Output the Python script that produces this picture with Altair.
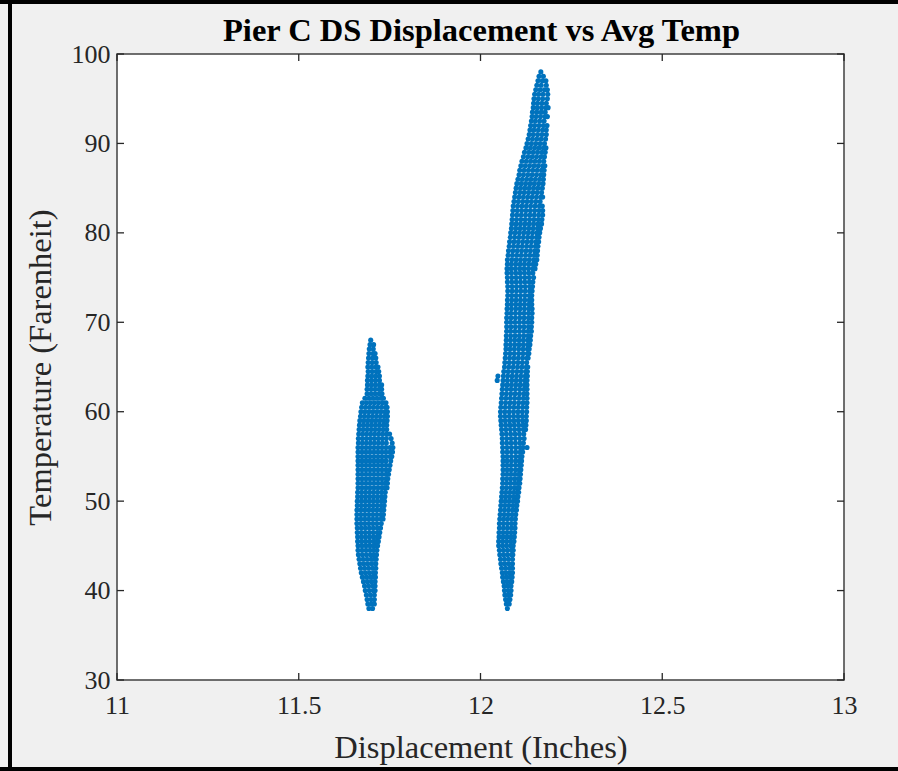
import altair as alt
import pandas as pd

# ---------------- data ----------------
# Left cluster (around 11.7 in): temperature rows and displacement readings per row
left_temp = [68.0, 67.5, 67.0, 66.5, 66.0, 65.5, 65.0, 64.5, 64.0, 63.5, 63.0, 62.5, 62.0, 61.5,
             61.0, 60.5, 60.0, 59.5, 59.0, 58.5, 58.0, 57.5, 57.0, 56.5, 56.0, 55.5, 55.0, 54.5,
             54.0, 53.5, 53.0, 52.5, 52.0, 51.5, 51.0, 50.5, 50.0, 49.5, 49.0, 48.5, 48.0, 47.5,
             47.0, 46.5, 46.0, 45.5, 45.0, 44.5, 44.0, 43.5, 43.0, 42.5, 42.0, 41.5, 41.0, 40.5,
             40.0, 39.5, 39.0, 38.5, 38.0]
left_disp = [
    [11.698],
    [11.696, 11.706],
    [11.694, 11.705],
    [11.693, 11.704, 11.710],
    [11.692, 11.703, 11.712],
    [11.691, 11.702, 11.713],
    [11.690, 11.701, 11.712, 11.718],
    [11.691, 11.702, 11.713, 11.720],
    [11.690, 11.701, 11.712, 11.722],
    [11.689, 11.700, 11.711, 11.722],
    [11.689, 11.700, 11.711, 11.722, 11.728],
    [11.688, 11.699, 11.710, 11.721, 11.728],
    [11.688, 11.699, 11.710, 11.721, 11.729],
    [11.682, 11.693, 11.704, 11.715, 11.726, 11.733],
    [11.675, 11.686, 11.697, 11.708, 11.719, 11.730, 11.740],
    [11.673, 11.684, 11.695, 11.706, 11.717, 11.728, 11.739, 11.743],
    [11.671, 11.682, 11.693, 11.704, 11.715, 11.726, 11.737, 11.744],
    [11.670, 11.681, 11.692, 11.703, 11.714, 11.725, 11.736, 11.744],
    [11.668, 11.679, 11.690, 11.701, 11.712, 11.723, 11.734, 11.743],
    [11.667, 11.678, 11.689, 11.700, 11.711, 11.722, 11.733, 11.742],
    [11.666, 11.677, 11.688, 11.699, 11.710, 11.721, 11.732, 11.742],
    [11.665, 11.676, 11.687, 11.698, 11.709, 11.720, 11.731, 11.742, 11.750],
    [11.664, 11.675, 11.686, 11.697, 11.708, 11.719, 11.730, 11.741, 11.754],
    [11.664, 11.675, 11.686, 11.697, 11.708, 11.719, 11.730, 11.741, 11.757],
    [11.663, 11.674, 11.685, 11.696, 11.707, 11.718, 11.729, 11.740, 11.751, 11.759],
    [11.663, 11.674, 11.685, 11.696, 11.707, 11.718, 11.729, 11.740, 11.751, 11.758],
    [11.663, 11.674, 11.685, 11.696, 11.707, 11.718, 11.729, 11.740, 11.751, 11.756],
    [11.663, 11.674, 11.685, 11.696, 11.707, 11.718, 11.729, 11.740, 11.753],
    [11.663, 11.674, 11.685, 11.696, 11.707, 11.718, 11.729, 11.740, 11.751],
    [11.663, 11.674, 11.685, 11.696, 11.707, 11.718, 11.729, 11.740, 11.749],
    [11.663, 11.674, 11.685, 11.696, 11.707, 11.718, 11.729, 11.740, 11.747],
    [11.663, 11.674, 11.685, 11.696, 11.707, 11.718, 11.729, 11.740, 11.745],
    [11.663, 11.674, 11.685, 11.696, 11.707, 11.718, 11.729, 11.738, 11.744],
    [11.663, 11.674, 11.685, 11.696, 11.707, 11.718, 11.729, 11.737, 11.743],
    [11.662, 11.673, 11.684, 11.695, 11.706, 11.717, 11.728, 11.738],
    [11.662, 11.673, 11.684, 11.695, 11.706, 11.717, 11.728, 11.737],
    [11.661, 11.672, 11.683, 11.694, 11.705, 11.716, 11.727, 11.736],
    [11.661, 11.672, 11.683, 11.694, 11.705, 11.716, 11.727, 11.735],
    [11.660, 11.671, 11.682, 11.693, 11.704, 11.715, 11.726, 11.734],
    [11.660, 11.671, 11.682, 11.693, 11.704, 11.715, 11.726, 11.733],
    [11.660, 11.671, 11.682, 11.693, 11.704, 11.715, 11.726, 11.732],
    [11.660, 11.671, 11.682, 11.693, 11.704, 11.715, 11.727],
    [11.661, 11.672, 11.683, 11.694, 11.705, 11.716, 11.725],
    [11.661, 11.672, 11.683, 11.694, 11.705, 11.716, 11.723],
    [11.662, 11.673, 11.684, 11.695, 11.706, 11.716, 11.721],
    [11.662, 11.673, 11.684, 11.695, 11.706, 11.714, 11.719],
    [11.663, 11.674, 11.685, 11.696, 11.706, 11.713, 11.717],
    [11.663, 11.674, 11.685, 11.696, 11.706, 11.715],
    [11.664, 11.675, 11.686, 11.697, 11.706, 11.714],
    [11.666, 11.677, 11.688, 11.699, 11.707, 11.713],
    [11.668, 11.679, 11.690, 11.701, 11.712],
    [11.670, 11.681, 11.692, 11.703, 11.712],
    [11.672, 11.683, 11.694, 11.705, 11.711],
    [11.675, 11.686, 11.697, 11.706, 11.711],
    [11.678, 11.689, 11.700, 11.710],
    [11.681, 11.692, 11.703, 11.710],
    [11.683, 11.694, 11.705, 11.710],
    [11.686, 11.697, 11.708],
    [11.688, 11.699, 11.708],
    [11.690, 11.700, 11.708],
    [11.693, 11.703],
]

# Right cluster (around 12.1 in)
right_temp = [98.0, 97.5, 97.0, 96.5, 96.0, 95.5, 95.0, 94.5, 94.0, 93.5, 93.0, 92.5, 92.0, 91.5,
              91.0, 90.5, 90.0, 89.5, 89.0, 88.5, 88.0, 87.5, 87.0, 86.5, 86.0, 85.5, 85.0, 84.5,
              84.0, 83.5, 83.0, 82.5, 82.0, 81.5, 81.0, 80.5, 80.0, 79.5, 79.0, 78.5, 78.0, 77.5,
              77.0, 76.5, 76.0, 75.5, 75.0, 74.5, 74.0, 73.5, 73.0, 72.5, 72.0, 71.5, 71.0, 70.5,
              70.0, 69.5, 69.0, 68.5, 68.0, 67.5, 67.0, 66.5, 66.0, 65.5, 65.0, 64.5, 64.0, 63.5,
              63.0, 62.5, 62.0, 61.5, 61.0, 60.5, 60.0, 59.5, 59.0, 58.5, 58.0, 57.5, 57.0, 56.5,
              56.0, 55.5, 55.0, 54.5, 54.0, 53.5, 53.0, 52.5, 52.0, 51.5, 51.0, 50.5, 50.0, 49.5,
              49.0, 48.5, 48.0, 47.5, 47.0, 46.5, 46.0, 45.5, 45.0, 44.5, 44.0, 43.5, 43.0, 42.5,
              42.0, 41.5, 41.0, 40.5, 40.0, 39.5, 39.0, 38.5, 38.0]
right_disp = [
    [12.166],
    [12.161, 12.173],
    [12.158, 12.170, 12.180],
    [12.155, 12.167, 12.181],
    [12.152, 12.164, 12.176, 12.184],
    [12.149, 12.160, 12.172, 12.185],
    [12.147, 12.159, 12.171, 12.184],
    [12.146, 12.157, 12.169, 12.181],
    [12.145, 12.156, 12.168, 12.180, 12.186],
    [12.143, 12.155, 12.167, 12.178],
    [12.142, 12.153, 12.165, 12.177, 12.184],
    [12.140, 12.151, 12.163, 12.175],
    [12.138, 12.149, 12.161, 12.173, 12.183],
    [12.136, 12.147, 12.159, 12.171, 12.181],
    [12.134, 12.145, 12.157, 12.169, 12.181],
    [12.131, 12.143, 12.155, 12.167, 12.179],
    [12.128, 12.140, 12.152, 12.164, 12.176],
    [12.125, 12.137, 12.149, 12.161, 12.173, 12.180],
    [12.121, 12.133, 12.145, 12.157, 12.169, 12.178],
    [12.118, 12.130, 12.142, 12.154, 12.166, 12.176],
    [12.114, 12.126, 12.138, 12.150, 12.162, 12.174],
    [12.111, 12.123, 12.135, 12.147, 12.159, 12.171, 12.177],
    [12.108, 12.120, 12.132, 12.144, 12.156, 12.168, 12.175],
    [12.106, 12.118, 12.130, 12.142, 12.154, 12.166, 12.174],
    [12.103, 12.115, 12.127, 12.139, 12.151, 12.163, 12.173],
    [12.100, 12.112, 12.124, 12.136, 12.148, 12.160, 12.172],
    [12.098, 12.110, 12.122, 12.134, 12.146, 12.158, 12.170],
    [12.096, 12.108, 12.120, 12.132, 12.144, 12.156, 12.168],
    [12.094, 12.106, 12.118, 12.130, 12.142, 12.154, 12.166, 12.171],
    [12.092, 12.104, 12.116, 12.128, 12.140, 12.152, 12.164],
    [12.090, 12.102, 12.114, 12.126, 12.138, 12.150, 12.162, 12.170],
    [12.089, 12.101, 12.113, 12.125, 12.137, 12.149, 12.161, 12.171],
    [12.088, 12.100, 12.112, 12.124, 12.136, 12.148, 12.160, 12.171],
    [12.087, 12.099, 12.111, 12.123, 12.135, 12.147, 12.159, 12.169],
    [12.086, 12.098, 12.110, 12.122, 12.134, 12.146, 12.158, 12.168],
    [12.085, 12.097, 12.109, 12.121, 12.133, 12.145, 12.157, 12.165],
    [12.083, 12.095, 12.107, 12.119, 12.131, 12.143, 12.155, 12.163],
    [12.082, 12.094, 12.106, 12.118, 12.130, 12.142, 12.154, 12.161],
    [12.080, 12.092, 12.104, 12.116, 12.128, 12.140, 12.152, 12.160],
    [12.079, 12.091, 12.103, 12.115, 12.127, 12.139, 12.151, 12.158],
    [12.077, 12.089, 12.101, 12.113, 12.125, 12.137, 12.149, 12.157],
    [12.076, 12.088, 12.100, 12.112, 12.124, 12.136, 12.148, 12.156],
    [12.074, 12.086, 12.098, 12.110, 12.122, 12.134, 12.146, 12.155],
    [12.074, 12.085, 12.097, 12.109, 12.121, 12.133, 12.145, 12.152],
    [12.073, 12.084, 12.096, 12.108, 12.120, 12.132, 12.144, 12.150],
    [12.073, 12.085, 12.097, 12.109, 12.121, 12.133, 12.144],
    [12.074, 12.086, 12.098, 12.110, 12.122, 12.134, 12.146],
    [12.074, 12.086, 12.098, 12.110, 12.122, 12.134, 12.144],
    [12.075, 12.087, 12.099, 12.111, 12.123, 12.135, 12.143],
    [12.075, 12.087, 12.099, 12.111, 12.123, 12.135, 12.142],
    [12.075, 12.086, 12.098, 12.110, 12.122, 12.134, 12.141],
    [12.074, 12.086, 12.098, 12.110, 12.122, 12.134, 12.141],
    [12.074, 12.085, 12.097, 12.109, 12.121, 12.133, 12.141],
    [12.073, 12.085, 12.097, 12.109, 12.121, 12.133, 12.142],
    [12.073, 12.084, 12.096, 12.108, 12.120, 12.132, 12.142],
    [12.072, 12.084, 12.096, 12.108, 12.120, 12.132, 12.141],
    [12.072, 12.083, 12.095, 12.107, 12.119, 12.131, 12.141],
    [12.072, 12.084, 12.096, 12.108, 12.120, 12.132, 12.140],
    [12.072, 12.083, 12.095, 12.107, 12.119, 12.131, 12.140],
    [12.071, 12.083, 12.095, 12.107, 12.119, 12.131, 12.138],
    [12.071, 12.082, 12.094, 12.106, 12.118, 12.130, 12.137],
    [12.070, 12.082, 12.094, 12.106, 12.118, 12.130, 12.136],
    [12.070, 12.081, 12.093, 12.105, 12.117, 12.129, 12.134],
    [12.069, 12.081, 12.093, 12.105, 12.117, 12.129, 12.133],
    [12.068, 12.080, 12.092, 12.104, 12.116, 12.128, 12.131],
    [12.067, 12.079, 12.091, 12.103, 12.115, 12.127],
    [12.066, 12.078, 12.090, 12.102, 12.114, 12.126, 12.130],
    [12.064, 12.076, 12.088, 12.100, 12.112, 12.124, 12.129],
    [12.048, 12.063, 12.075, 12.087, 12.099, 12.111, 12.123, 12.129],
    [12.046, 12.062, 12.074, 12.086, 12.098, 12.110, 12.122, 12.128],
    [12.061, 12.073, 12.085, 12.097, 12.109, 12.121, 12.128],
    [12.060, 12.072, 12.084, 12.096, 12.108, 12.120, 12.128],
    [12.059, 12.071, 12.083, 12.095, 12.107, 12.119, 12.128],
    [12.058, 12.070, 12.082, 12.094, 12.106, 12.118, 12.128],
    [12.057, 12.069, 12.081, 12.093, 12.105, 12.117, 12.128],
    [12.056, 12.068, 12.080, 12.092, 12.104, 12.116, 12.127],
    [12.055, 12.067, 12.079, 12.091, 12.103, 12.115, 12.127],
    [12.055, 12.067, 12.079, 12.091, 12.103, 12.115, 12.126],
    [12.056, 12.068, 12.080, 12.092, 12.104, 12.116, 12.126],
    [12.057, 12.069, 12.081, 12.093, 12.105, 12.117, 12.125],
    [12.058, 12.070, 12.082, 12.094, 12.106, 12.118, 12.124],
    [12.059, 12.071, 12.083, 12.095, 12.107, 12.119],
    [12.060, 12.072, 12.084, 12.096, 12.108, 12.120],
    [12.060, 12.072, 12.084, 12.096, 12.108, 12.118],
    [12.061, 12.073, 12.085, 12.097, 12.109, 12.117, 12.128],
    [12.061, 12.073, 12.085, 12.097, 12.109, 12.116],
    [12.062, 12.073, 12.085, 12.097, 12.108, 12.114],
    [12.062, 12.073, 12.085, 12.097, 12.108, 12.113],
    [12.062, 12.073, 12.084, 12.096, 12.107, 12.112],
    [12.062, 12.073, 12.084, 12.096, 12.106, 12.111],
    [12.062, 12.073, 12.084, 12.095, 12.105, 12.110],
    [12.061, 12.072, 12.083, 12.094, 12.104, 12.109],
    [12.061, 12.072, 12.083, 12.094, 12.103, 12.108],
    [12.060, 12.071, 12.082, 12.093, 12.102, 12.106],
    [12.059, 12.070, 12.081, 12.092, 12.101, 12.105],
    [12.058, 12.069, 12.080, 12.091, 12.100, 12.103],
    [12.057, 12.068, 12.079, 12.090, 12.099, 12.102],
    [12.056, 12.067, 12.078, 12.089, 12.098, 12.100],
    [12.055, 12.066, 12.077, 12.088, 12.097, 12.099],
    [12.054, 12.065, 12.076, 12.087, 12.097],
    [12.053, 12.064, 12.075, 12.086, 12.096],
    [12.052, 12.063, 12.074, 12.085, 12.095],
    [12.052, 12.063, 12.074, 12.085, 12.095],
    [12.051, 12.062, 12.073, 12.084, 12.094],
    [12.051, 12.062, 12.073, 12.084, 12.093],
    [12.050, 12.061, 12.072, 12.083, 12.092],
    [12.050, 12.061, 12.072, 12.083, 12.090],
    [12.052, 12.063, 12.074, 12.085, 12.090],
    [12.053, 12.064, 12.075, 12.086, 12.089],
    [12.055, 12.066, 12.077, 12.088],
    [12.056, 12.067, 12.078, 12.088],
    [12.058, 12.069, 12.080, 12.088],
    [12.060, 12.070, 12.080, 12.088],
    [12.061, 12.071, 12.081, 12.087],
    [12.063, 12.073, 12.083, 12.086],
    [12.065, 12.075, 12.084],
    [12.066, 12.076, 12.084],
    [12.067, 12.076, 12.083],
    [12.069, 12.077, 12.081],
    [12.071, 12.079],
    [12.074],
]

x_ticks = [11, 11.5, 12, 12.5, 13]
y_ticks = [30, 40, 50, 60, 70, 80, 90, 100]
x_domain = [11, 13]
y_domain = [30, 100]

title_text = "Pier C DS Displacement vs Avg Temp"
x_title = "Displacement (Inches)"
y_title = "Temperature (Farenheit)"

# ---------------- build table ----------------
rows = []
for temps, disps in ((left_temp, left_disp), (right_temp, right_disp)):
    for t, xs in zip(temps, disps):
        for x in xs:
            rows.append({"disp": x, "temp": t})
points = pd.DataFrame(rows)
xt = pd.DataFrame({"disp": x_ticks})
yt = pd.DataFrame({"temp": y_ticks})
one = pd.DataFrame({"k": [0]})

W, H = 727, 626
FONT = "Liberation Serif"
AX = "#262626"
TICK_LEN = 7

xs = alt.Scale(domain=x_domain, nice=False, zero=False)
ys = alt.Scale(domain=y_domain, nice=False, zero=False)

x_axis = alt.Axis(values=x_ticks, format="~g", ticks=False, grid=False, domain=False,
                  labelPadding=12, labelBaseline="top", labelFontSize=26, labelFlush=False,
                  titleY=77, titleBaseline="alphabetic")
y_axis = alt.Axis(values=y_ticks, format="d", ticks=False, grid=False, domain=False,
                  labelPadding=7, labelFontSize=26, labelFlush=False,
                  titleX=-60, titleY=H / 2, titleAngle=-90,
                  titleAlign="center", titleBaseline="bottom")

X = alt.X("disp:Q", scale=xs, title=x_title, axis=x_axis)
Y = alt.Y("temp:Q", scale=ys, title=y_title, axis=y_axis)

scatter = alt.Chart(points).mark_circle(size=26, opacity=1, color="#0072BD").encode(x=X, y=Y)

x_bot = alt.Chart(xt).mark_rule(color=AX, strokeWidth=1.3).encode(
    x=X, y=alt.value(H), y2=alt.value(H - TICK_LEN))
x_top = alt.Chart(xt).mark_rule(color=AX, strokeWidth=1.3).encode(
    x=X, y=alt.value(0), y2=alt.value(TICK_LEN))
y_left = alt.Chart(yt).mark_rule(color=AX, strokeWidth=1.3).encode(
    y=Y, x=alt.value(0), x2=alt.value(TICK_LEN))
y_right = alt.Chart(yt).mark_rule(color=AX, strokeWidth=1.3).encode(
    y=Y, x=alt.value(W), x2=alt.value(W - TICK_LEN))

# chart title, drawn as text centred over the plot area
title_mark = alt.Chart(one).mark_text(
    font=FONT, fontSize=32.5, fontWeight="bold", color="black",
    align="center", baseline="alphabetic",
).encode(text=alt.value(title_text), x=alt.value(W / 2 + 1), y=alt.value(-13))

# outer black frame of the figure window
frame_top = alt.Chart(one).mark_rule(color="black", strokeWidth=4).encode(
    x=alt.value(-117), x2=alt.value(898 - 117), y=alt.value(-52))
frame_left = alt.Chart(one).mark_rule(color="black", strokeWidth=4).encode(
    x=alt.value(-107), y=alt.value(-54), y2=alt.value(771 - 54))
frame_bottom = alt.Chart(one).mark_rule(color="black", strokeWidth=4).encode(
    x=alt.value(-117), x2=alt.value(898 - 117), y=alt.value(769 - 54))

chart = alt.layer(
    scatter, x_bot, x_top, y_left, y_right, title_mark, frame_top, frame_left, frame_bottom
).properties(
    width=W, height=H,
    autosize=alt.AutoSizeParams(type="none"),
    padding={"left": 117, "top": 54, "right": 54, "bottom": 91},
).configure(
    background="#f0f0f0",
).configure_view(
    fill="white", stroke="#404040", strokeWidth=1.5,
).configure_axis(
    labelFont=FONT, titleFont=FONT, labelColor=AX, titleColor=AX,
    titleFontSize=32.5, titleFontWeight="normal",
)

chart.save("out.html", embed_options={"renderer": "svg", "actions": False})
